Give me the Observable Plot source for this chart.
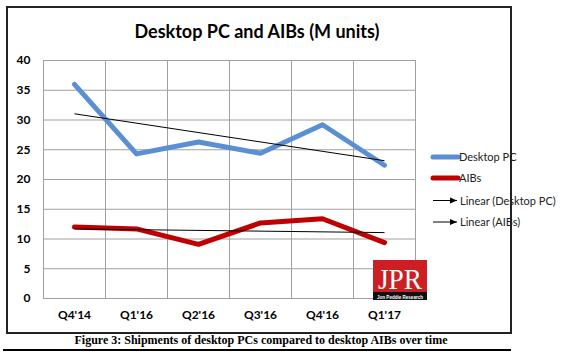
<!DOCTYPE html>
<html><head><meta charset="utf-8">
<script src="https://cdn.jsdelivr.net/npm/d3@7"></script>
<script src="https://cdn.jsdelivr.net/npm/@observablehq/plot@0.6"></script>
<style>
body{margin:0;background:#fff;}
#wrap{position:relative;width:580px;height:358px;overflow:hidden;background:#fff;}
#wrap > svg{position:absolute;left:0;top:0;}
#overlay{pointer-events:none;}
</style></head>
<body><div id="wrap"></div>
<script>
// ---- data ----
const quarters = ["Q4'14", "Q1'16", "Q2'16", "Q3'16", "Q4'16", "Q1'17"];
const desktopPC = [36.0, 24.3, 26.3, 24.4, 29.2, 22.4];
const aibs = [12.0, 11.7, 9.1, 12.7, 13.4, 9.4];
const yTicks = [0, 5, 10, 15, 20, 25, 30, 35, 40];
const seriesNames = ["Desktop PC", "AIBs"];
const legendLabels = ["Desktop PC", "AIBs", "Linear (Desktop PC)", "Linear (AIBs)"];
const titleText = "Desktop PC and AIBs (M units)";
const captionText = "Figure 3: Shipments of desktop PCs compared to desktop AIBs over time";

const BLUE = "#5b8fd4", RED = "#c00000", GRID = "#a0a0a0";

const rows = (vals, name) => vals.map((v, i) => ({i, v, name}));
const pcRows = rows(desktopPC, seriesNames[0]);
const aibRows = rows(aibs, seriesNames[1]);

function trend(vals, name) {
  const n = vals.length, xs = d3.range(n);
  const mx = d3.mean(xs), my = d3.mean(vals);
  const b = d3.sum(xs, (x, k) => (x - mx) * (vals[k] - my)) / d3.sum(xs, x => (x - mx) ** 2);
  const a = my - b * mx;
  return {name, x1: 0, y1: a, x2: n - 1, y2: a + b * (n - 1)};
}
const trends = [trend(desktopPC, seriesNames[0]), trend(aibs, seriesNames[1])];

const chart = Plot.plot({
  width: 580, height: 358,
  marginLeft: 43, marginRight: 165, marginTop: 60, marginBottom: 60,
  style: {fontFamily: "Lato, sans-serif", background: "transparent"},
  x: {domain: [-0.5, quarters.length - 0.5], axis: null},
  y: {domain: [0, 40], axis: null},
  marks: [
    Plot.ruleY(yTicks, {stroke: GRID, strokeWidth: 1}),
    Plot.ruleX(d3.range(quarters.length + 1).map(k => k - 0.5), {stroke: GRID, strokeWidth: 1}),
    Plot.axisY(yTicks, {tickSize: 0, tickPadding: 13, fontSize: 12, fontWeight: "bold", tickFormat: d => d}),
    Plot.axisX(d3.range(quarters.length), {tickSize: 0, tickPadding: 12, fontSize: 12, fontWeight: "bold", tickFormat: k => quarters[k]}),
    Plot.line(pcRows, {x: "i", y: "v", stroke: BLUE, strokeWidth: 5}),
    Plot.line(aibRows, {x: "i", y: "v", stroke: RED, strokeWidth: 5}),
    Plot.link(trends, {x1: "x1", y1: "y1", x2: "x2", y2: "y2", stroke: "#000", strokeWidth: 1, ariaLabel: "trend"})
  ]
});
document.getElementById("wrap").appendChild(chart);

// filled arrowheads on the trend links
const ns = "http://www.w3.org/2000/svg";
const defs = document.createElementNS(ns, "defs");
defs.innerHTML = '<marker id="ahead" viewBox="0 -4 7 8" refX="7" refY="0" markerWidth="7" markerHeight="8" markerUnits="userSpaceOnUse" orient="auto"><path d="M0,-3L7,0L0,3Z" fill="#000"/></marker>';
chart.insertBefore(defs, chart.firstChild);
chart.querySelectorAll('g[aria-label="trend"] path').forEach(p => p.setAttribute("marker-end", "url(#ahead)"));

// overlay: frame, title, legend, logo, caption
const legendY = [157, 178, 200.5, 222];
let legend = "";
legendLabels.forEach((t, k) => {
  const y = legendY[k];
  if (k < 2) {
    legend += `<line x1="433" x2="458" y1="${y}" y2="${y}" stroke="${k === 0 ? BLUE : RED}" stroke-width="5" stroke-linecap="round"/>`;
  } else {
    legend += `<line x1="433" x2="457" y1="${y}" y2="${y}" stroke="#000" stroke-width="1" marker-end="url(#ahead2)"/>`;
  }
  legend += `<text x="${k < 2 ? 459 : 460}" y="${y + 4}" font-family="Lato, sans-serif" font-size="11" fill="#222">${t}</text>`;
});

const overlay = `<svg id="overlay" width="580" height="358" xmlns="${ns}">
<defs><marker id="ahead2" viewBox="0 -4 7 8" refX="7" refY="0" markerWidth="7" markerHeight="8" markerUnits="userSpaceOnUse" orient="auto"><path d="M0,-3L7,0L0,3Z" fill="#000"/></marker></defs>
<rect x="7" y="7" width="504" height="326" fill="none" stroke="#222" stroke-width="2"/>
<text x="257" y="37.5" text-anchor="middle" font-family="Lato, sans-serif" font-weight="bold" font-size="18" fill="#000">${titleText}</text>
${legend}
<rect x="373" y="260" width="54" height="32" fill="#cc1f24"/>
<rect x="373" y="292" width="54" height="8" fill="#111"/>
<text x="400" y="289" text-anchor="middle" font-family="'Liberation Serif', serif" font-size="30" fill="#fff" textLength="44" lengthAdjust="spacingAndGlyphs">JPR</text>
<text x="400" y="298.5" text-anchor="middle" font-family="'Liberation Sans Narrow', sans-serif" font-size="6" font-weight="bold" fill="#fff" textLength="46" lengthAdjust="spacingAndGlyphs">Jon Peddie Research</text>
<text x="261" y="343.5" text-anchor="middle" font-family="'Liberation Serif', serif" font-weight="bold" font-size="12" fill="#000">${captionText}</text>
<line x1="3" x2="511" y1="350" y2="350" stroke="#000" stroke-width="2"/>
</svg>`;
document.getElementById("wrap").insertAdjacentHTML("beforeend", overlay);
</script>
</body></html>
